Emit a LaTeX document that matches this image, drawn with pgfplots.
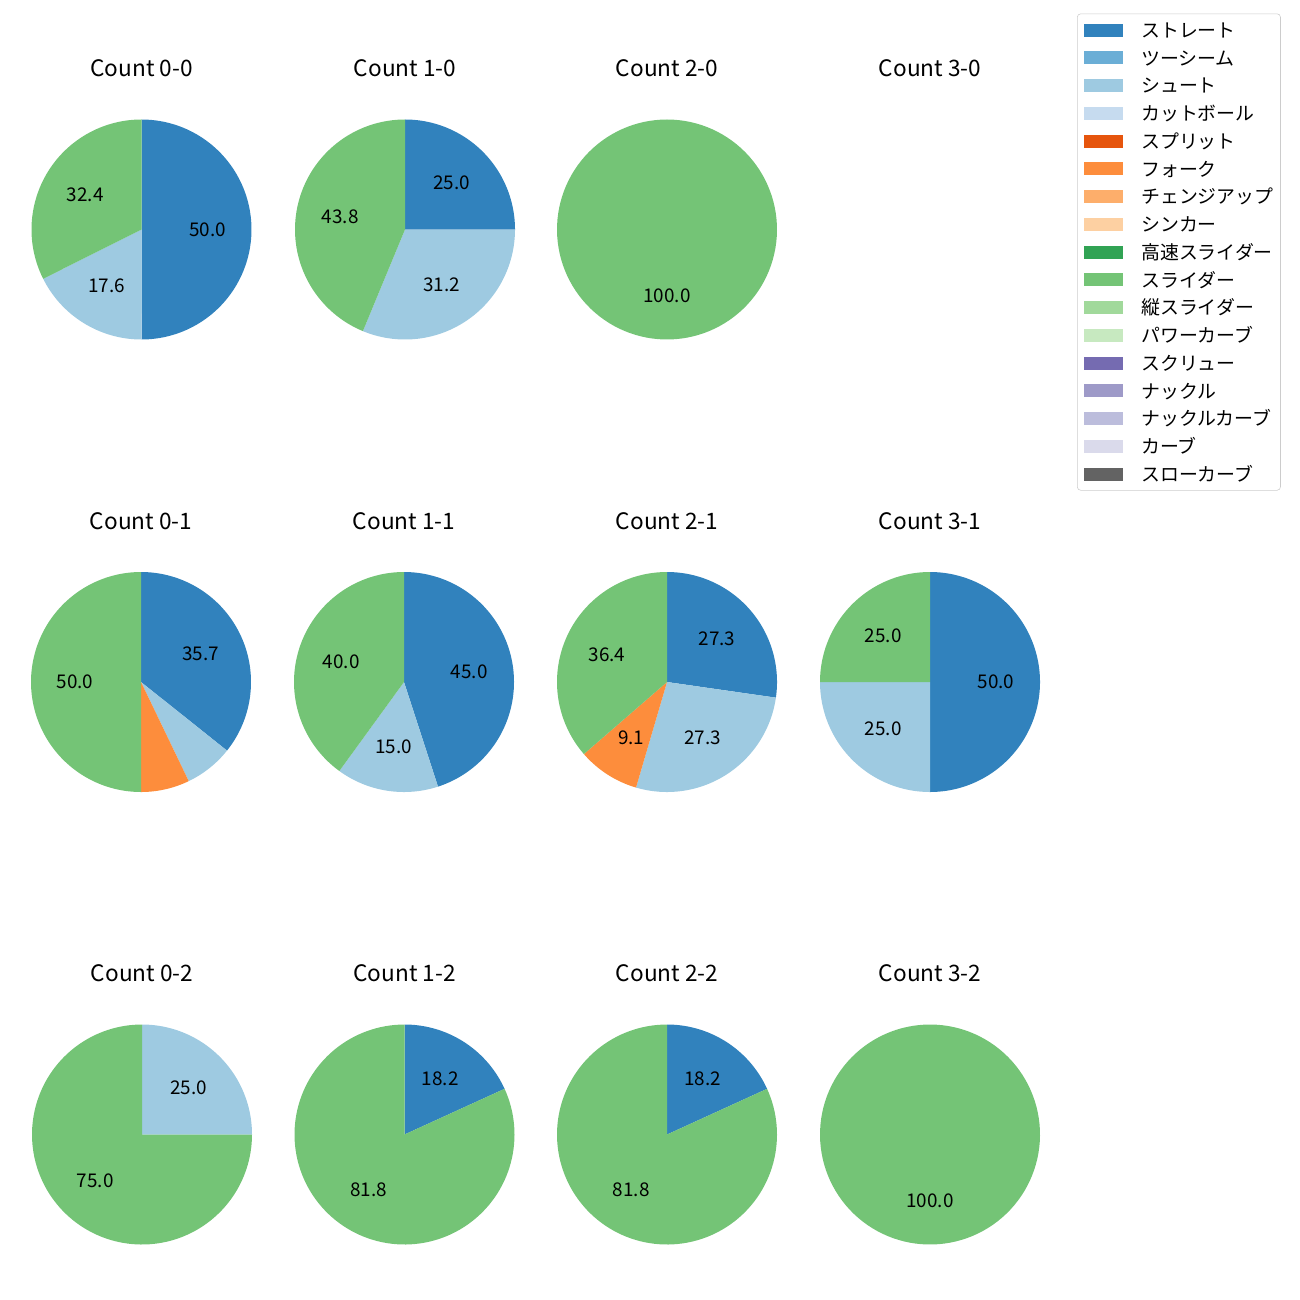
\documentclass[border=0pt]{standalone}
\usepackage{pgfplots}
\pgfplotsset{compat=1.18}
\usepackage{fontspec}
\setmainfont{Noto Sans CJK JP}
\def\px{0.72pt}
\definecolor{c1}{HTML}{3182BD}
\definecolor{c2}{HTML}{6BAED6}
\definecolor{c3}{HTML}{9ECAE1}
\definecolor{c4}{HTML}{C6DBEF}
\definecolor{c5}{HTML}{E6550D}
\definecolor{c6}{HTML}{FD8D3C}
\definecolor{c7}{HTML}{FDAE6B}
\definecolor{c8}{HTML}{FDD0A2}
\definecolor{c9}{HTML}{31A354}
\definecolor{c10}{HTML}{74C476}
\definecolor{c11}{HTML}{A1D99B}
\definecolor{c12}{HTML}{C7E9C0}
\definecolor{c13}{HTML}{756BB1}
\definecolor{c14}{HTML}{9E9AC8}
\definecolor{c15}{HTML}{BCBDDC}
\definecolor{c16}{HTML}{DADAEB}
\definecolor{c17}{HTML}{636363}
\definecolor{legedge}{HTML}{CCCCCC}
\tikzset{lbl/.style={font=\fontsize{13.6}{16}\selectfont, text=black, inner sep=0pt},
  ttl/.style={font=\fontsize{16.3}{19.6}\selectfont, text=black, anchor=base, inner sep=0pt}}
\pgfplotsset{pie/.style={hide axis, x=79.2pt, y=79.2pt, xmin=-1, xmax=1, ymin=-1, ymax=1,
  clip=false, anchor=origin}}
% #1 colour, #2 start %, #3 end %, #4 label
\newcommand{\slice}[4]{%
  \pgfmathsetmacro\sa{90-3.6*(#3)}%
  \pgfmathsetmacro\sb{90-3.6*(#2)}%
  \pgfmathsetmacro\lx{0.6*cos(90-1.8*((#2)+(#3)))}%
  \pgfmathsetmacro\ly{0.6*sin(90-1.8*((#2)+(#3)))}%
  \edef\doplot{\noexpand\addplot[fill=#1, draw=none, domain=\sa:\sb, samples=120, variable=\noexpand\t] ({cos(\noexpand\t)},{sin(\noexpand\t)}) -- (axis cs:0,0) -- cycle;}%
  \doplot
  \edef\donode{\noexpand\node[lbl] at (axis cs:\lx,\ly) {#4};}%
  \donode
}
\newcommand{\ptitle}[1]{\node[ttl] at (axis cs:0,1.39) {#1};}
\begin{document}
\begin{tikzpicture}
\useasboundingbox (0,0) rectangle (936pt,-936pt);
% Row 1
\begin{axis}[pie, at={({141.5*\px},{-229.5*\px})}]
\slice{c1}{0}{50.0}{50.0}
\slice{c3}{50.0}{67.6}{17.6}
\slice{c10}{67.6}{100}{32.4}
\ptitle{Count 0-0}
\end{axis}
\begin{axis}[pie, at={({405*\px},{-229.5*\px})}]
\slice{c1}{0}{25.0}{25.0}
\slice{c3}{25.0}{56.25}{31.2}
\slice{c10}{56.25}{100}{43.8}
\ptitle{Count 1-0}
\end{axis}
\begin{axis}[pie, at={({667*\px},{-229.5*\px})}]
\slice{c10}{0}{100}{100.0}
\ptitle{Count 2-0}
\end{axis}
\begin{axis}[pie, at={({930*\px},{-229.5*\px})}]
\ptitle{Count 3-0}
\end{axis}
% Row 2
\begin{axis}[pie, at={({141*\px},{-682*\px})}]
\slice{c1}{0}{35.714}{35.7}
\slice{c3}{35.714}{42.857}{}
\slice{c6}{42.857}{50.0}{}
\slice{c10}{50.0}{100}{50.0}
\ptitle{Count 0-1}
\end{axis}
\begin{axis}[pie, at={({404*\px},{-682*\px})}]
\slice{c1}{0}{45.0}{45.0}
\slice{c3}{45.0}{60.0}{15.0}
\slice{c10}{60.0}{100}{40.0}
\ptitle{Count 1-1}
\end{axis}
\begin{axis}[pie, at={({667*\px},{-682*\px})}]
\slice{c1}{0}{27.273}{27.3}
\slice{c3}{27.273}{54.545}{27.3}
\slice{c6}{54.545}{63.636}{9.1}
\slice{c10}{63.636}{100}{36.4}
\ptitle{Count 2-1}
\end{axis}
\begin{axis}[pie, at={({930*\px},{-682*\px})}]
\slice{c1}{0}{50.0}{50.0}
\slice{c3}{50.0}{75.0}{25.0}
\slice{c10}{75.0}{100}{25.0}
\ptitle{Count 3-1}
\end{axis}
% Row 3
\begin{axis}[pie, at={({142*\px},{-1134.5*\px})}]
\slice{c3}{0}{25.0}{25.0}
\slice{c10}{25.0}{100}{75.0}
\ptitle{Count 0-2}
\end{axis}
\begin{axis}[pie, at={({404.5*\px},{-1134.5*\px})}]
\slice{c1}{0}{18.182}{18.2}
\slice{c10}{18.182}{100}{81.8}
\ptitle{Count 1-2}
\end{axis}
\begin{axis}[pie, at={({667*\px},{-1134.5*\px})}]
\slice{c1}{0}{18.182}{18.2}
\slice{c10}{18.182}{100}{81.8}
\ptitle{Count 2-2}
\end{axis}
\begin{axis}[pie, at={({930*\px},{-1134.5*\px})}]
\slice{c10}{0}{100}{100.0}
\ptitle{Count 3-2}
\end{axis}
% Legend
\begin{axis}[hide axis, x=1pt, y=1pt, xmin=0, xmax=1, ymin=0, ymax=1, anchor=origin,
  at={({1077*\px},{-13.5*\px})},
  legend image code/.code={\fill[#1, sharp corners] (0pt,-4.68pt) rectangle (28.08pt,4.68pt);},
  legend cell align=left,
  legend style={at={(0,0)}, anchor=north west, draw=legedge, fill=white,
    rounded corners=2.5pt, inner xsep=5.04pt, inner ysep=6.5pt,
    row sep=9.58pt, column sep=12.96pt,
    font=\fontsize{13.6}{16}\selectfont,
    nodes={inner sep=0pt, text height=10.4pt, text depth=0pt}}]
\addlegendimage{fill=c1, draw=none}\addlegendentry{ストレート}
\addlegendimage{fill=c2, draw=none}\addlegendentry{ツーシーム}
\addlegendimage{fill=c3, draw=none}\addlegendentry{シュート}
\addlegendimage{fill=c4, draw=none}\addlegendentry{カットボール}
\addlegendimage{fill=c5, draw=none}\addlegendentry{スプリット}
\addlegendimage{fill=c6, draw=none}\addlegendentry{フォーク}
\addlegendimage{fill=c7, draw=none}\addlegendentry{チェンジアップ}
\addlegendimage{fill=c8, draw=none}\addlegendentry{シンカー}
\addlegendimage{fill=c9, draw=none}\addlegendentry{高速スライダー}
\addlegendimage{fill=c10, draw=none}\addlegendentry{スライダー}
\addlegendimage{fill=c11, draw=none}\addlegendentry{縦スライダー}
\addlegendimage{fill=c12, draw=none}\addlegendentry{パワーカーブ}
\addlegendimage{fill=c13, draw=none}\addlegendentry{スクリュー}
\addlegendimage{fill=c14, draw=none}\addlegendentry{ナックル}
\addlegendimage{fill=c15, draw=none}\addlegendentry{ナックルカーブ}
\addlegendimage{fill=c16, draw=none}\addlegendentry{カーブ}
\addlegendimage{fill=c17, draw=none}\addlegendentry{スローカーブ}
\end{axis}
\end{tikzpicture}
\end{document}
